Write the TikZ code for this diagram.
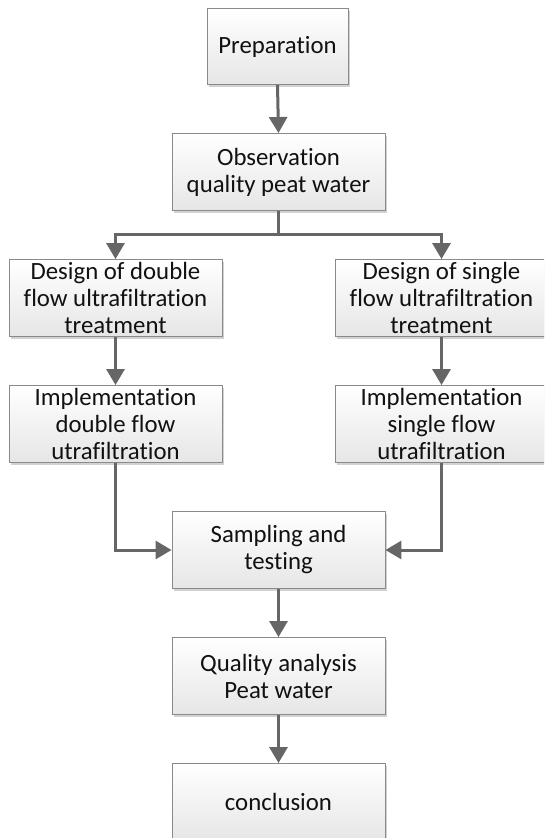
\documentclass[tikz,border=0pt]{standalone}
\usepackage{fontspec}
\setmainfont{Carlito}[Ligatures=NoCommon]
\usetikzlibrary{arrows.meta,shadows}
\definecolor{linegray}{HTML}{666666}
\definecolor{boxborder}{HTML}{8A8A8A}
\definecolor{boxbottom}{HTML}{E6E6E6}
\definecolor{txt}{HTML}{111111}
\begin{document}
\begin{tikzpicture}[x=1pt,y=-1pt,
  box/.style={draw=boxborder, line width=0.9pt, top color=white, bottom color=boxbottom,
    drop shadow={shadow xshift=2pt, shadow yshift=-2pt, opacity=0.35, fill=gray},
    minimum width=213pt, minimum height=77pt, inner sep=0pt, align=center,
    text=txt, font=\fontsize{24.8}{27}\selectfont},
  arr/.style={draw=linegray, line width=3pt, -{Triangle[length=16pt,width=18pt]}}]
\clip (0,0) rectangle (544,838);
\fill[white] (0,0) rectangle (544,838);
\node[box, minimum width=141pt, minimum height=76pt] (prep) at (277.5,46.5) {Preparation};
\node[box] (obs) at (278.5,172) {Observation\\quality peat water};
\node[box] (d1) at (115.5,298) {Design of double\\flow ultrafiltration\\treatment};
\node[box] (d2) at (441.5,298) {Design of single\\flow ultrafiltration\\treatment};
\node[box] (i1) at (115.5,424) {Implementation\\double flow\\utrafiltration};
\node[box] (i2) at (441.5,424) {Implementation\\single flow\\utrafiltration};
\node[box] (samp) at (278.5,550) {Sampling and\\testing};
\node[box] (qual) at (278.5,676) {Quality analysis\\Peat water};
\node[box] (conc) at (278.5,802) {conclusion};
\coordinate (br) at (278.5,234);
\draw[arr] (prep.south) -- (obs.north);
\draw[arr] (obs.south) -- (br) -| (d1.north);
\draw[arr] (br) -| (d2.north);
\draw[arr] (d1.south) -- (i1.north);
\draw[arr] (d2.south) -- (i2.north);
\draw[arr] (i1.south) |- (samp.west);
\draw[arr] (i2.south) |- (samp.east);
\draw[arr] (samp.south) -- (qual.north);
\draw[arr] (qual.south) -- (conc.north);
\end{tikzpicture}
\end{document}
